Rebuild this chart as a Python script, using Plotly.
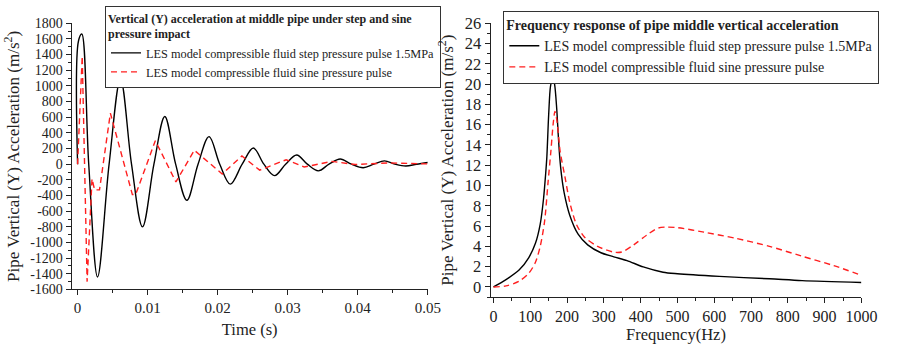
import plotly.graph_objects as go

# ---------------- data ----------------
# Left: time history of vertical acceleration (m/s^2)
t_step = [0, 0.00012, 0.0006, 0.00159, 0.00285, 0.0045, 0.00613, 0.0077, 0.00927, 0.0109,
          0.01245, 0.0140, 0.0156, 0.0172, 0.01877, 0.0203, 0.02181, 0.0235, 0.0251, 0.0266,
          0.02813, 0.0297, 0.03128, 0.0328, 0.03437, 0.0359, 0.0375, 0.0391, 0.04078, 0.0423,
          0.04382, 0.0453, 0.04687, 0.0484, 0.05]
a_step = [0, 1570, 1663, 0, -1440, 0, 1089, 0, -800, 0,
          610, 0, -461, 0, 352, 0, -255, 0, 206, 0,
          -146, 0, 117, 0, -85, 0, 67, 0, -45, 0,
          42, 0, -24, 0, 22]

t_sine = [0, 0.00066, 0.00136, 0.00206, 0.00243, 0.00313, 0.00468, 0.00782, 0.00829, 0.0111,
          0.01404, 0.01667, 0.02065, 0.02346, 0.026, 0.02978, 0.03235, 0.03633, 0.03961, 0.0443, 0.05]
a_sine = [0, 1380, -1500, -186, -328, -328, 652, -388, -388, 300,
          -227, 178, -125, 105, -76, 57, -36, 36, -4, 16, 4]

# Right: frequency response amplitude (m/s^2)
f_step = [0, 34, 69.5, 96, 114, 127, 136, 141, 145, 150, 155, 161, 166, 172, 176, 180, 185, 192,
          207, 230, 256, 292, 327, 363, 407, 461, 500, 614, 750, 839, 1000]
amp_step = [0, 0.72, 1.66, 2.9, 4.3, 6.2, 8.7, 10.8, 12.8, 17.0, 19.8, 20.6, 20.0, 17.5, 15.0, 12.8, 11.0, 9.3,
            7.1, 5.2, 4.15, 3.37, 2.97, 2.6, 1.97, 1.45, 1.3, 1.04, 0.8, 0.62, 0.43]

f_sine = [0, 34, 69.5, 96, 114, 127, 139, 148, 156, 162, 167, 172, 177, 181, 194, 207, 225, 247,
          283, 327, 349, 381, 416, 447, 470, 500, 572, 658, 750, 836, 925, 1000]
amp_sine = [0, 0.1, 0.56, 1.35, 2.43, 4.0, 6.5, 10.2, 13.4, 16.0, 17.3, 16.5, 14.8, 13.4, 10.9, 8.4, 6.2, 4.93,
            4.0, 3.43, 3.45, 4.15, 5.1, 5.8, 5.9, 5.85, 5.4, 4.8, 4.0, 3.06, 2.1, 1.15]

# tick labels
time_ticks = [0, 0.01, 0.02, 0.03, 0.04, 0.05]
time_ticktext = ["0", "0.01", "0.02", "0.03", "0.04", "0.05"]
acc_ticks = list(range(-1600, 1801, 200))
acc_ticktext = [str(v) for v in acc_ticks]
freq_ticks = list(range(0, 1001, 100))
freq_ticktext = [str(v) for v in freq_ticks]
amp_ticks = list(range(0, 27, 2))
amp_ticktext = [str(v) for v in amp_ticks]

name_step = "LES model compressible fluid step pressure pulse 1.5MPa"
name_sine = "LES model compressible fluid sine pressure pulse"

# ---------------- figure ----------------
W, H = 898, 345
FONT = "Liberation Serif"
INK = "#222222"
RED = "#ff1f1f"


def fnt(size):
    return dict(family=FONT, size=size, color=INK)


fig = go.Figure()
fig.add_trace(go.Scatter(x=t_step, y=a_step, mode="lines", name=name_step,
                         line=dict(color="black", width=1.4, shape="spline", smoothing=1.0),
                         xaxis="x", yaxis="y", legend="legend"))
fig.add_trace(go.Scatter(x=t_sine, y=a_sine, mode="lines", name=name_sine,
                         line=dict(color=RED, width=1.4, dash="6px,4px"),
                         xaxis="x", yaxis="y", legend="legend"))
fig.add_trace(go.Scatter(x=f_step, y=amp_step, mode="lines", name=name_step,
                         line=dict(color="black", width=1.4, shape="spline", smoothing=0.8),
                         xaxis="x2", yaxis="y2", legend="legend2"))
fig.add_trace(go.Scatter(x=f_sine, y=amp_sine, mode="lines", name=name_sine,
                         line=dict(color=RED, width=1.4, dash="6px,4px", shape="spline", smoothing=0.8),
                         xaxis="x2", yaxis="y2", legend="legend2"))


def px_x(p):
    return p / W


def px_y(p):
    return 1 - p / H


common = dict(showline=True, linecolor=INK, linewidth=1, ticks="outside", ticklen=5,
              tickwidth=1, tickcolor=INK, showgrid=False, zeroline=False, mirror=False,
              tickmode="array")

fig.update_layout(
    width=W, height=H,
    margin=dict(l=0, r=0, t=0, b=0),
    paper_bgcolor="white", plot_bgcolor="white",
    font=fnt(14),
    xaxis=dict(domain=[px_x(72), px_x(435)], range=[-0.00085, 0.05], anchor="y",
               tickvals=time_ticks, ticktext=time_ticktext, tickfont=fnt(15),
               minor=dict(tickmode="array", tickvals=[0.005, 0.015, 0.025, 0.035, 0.045],
                          ticks="outside", ticklen=3, tickcolor=INK),
               title=dict(text="Time (s)", font=fnt(16.5), standoff=7), **common),
    yaxis=dict(domain=[px_y(295), px_y(15)], range=[-1600, 1800], anchor="x",
               tickvals=acc_ticks, ticktext=acc_ticktext, tickfont=fnt(14),
               minor=dict(dtick=100, ticks="outside", ticklen=3, tickcolor=INK),
               title=dict(text="Pipe Vertical (Y) Acceleration (m/s<sup>2</sup>)",
                          font=fnt(17), standoff=6), **common),
    xaxis2=dict(domain=[px_x(499), px_x(877)], range=[-8, 1000], anchor="y2",
                tickvals=freq_ticks, ticktext=freq_ticktext, tickfont=fnt(16),
                minor=dict(dtick=50, ticks="outside", ticklen=3, tickcolor=INK),
                title=dict(text="Frequency(Hz)", font=fnt(16.5), standoff=3), **common),
    yaxis2=dict(domain=[px_y(303), px_y(15)], range=[-1, 26], anchor="x2",
                tickvals=amp_ticks, ticktext=amp_ticktext, tickfont=fnt(16.5),
                minor=dict(dtick=1, ticks="outside", ticklen=3, tickcolor=INK),
                title=dict(text="Pipe Vertical (Y) Acceleration (m/s<sup>2</sup>)",
                           font=fnt(17), standoff=6), **common),
    legend=dict(x=px_x(106), y=px_y(-3), xanchor="left", yanchor="top",
                bgcolor="white", bordercolor="#333", borderwidth=1,
                font=fnt(12.3),
                title=dict(text="<b>Vertical (Y) acceleration at middle pipe under step and sine<br>pressure impact</b>",
                           font=fnt(12)),
                itemwidth=30, tracegroupgap=0),
    legend2=dict(x=px_x(512), y=px_y(2), xanchor="left", yanchor="top",
                 bgcolor="white", bordercolor="#333", borderwidth=1,
                 font=fnt(14),
                 title=dict(text="<b>Frequency response of pipe middle vertical acceleration</b>",
                            font=fnt(14)),
                 itemwidth=30, tracegroupgap=0),
    showlegend=True,
)

fig.write_html("out.html")
